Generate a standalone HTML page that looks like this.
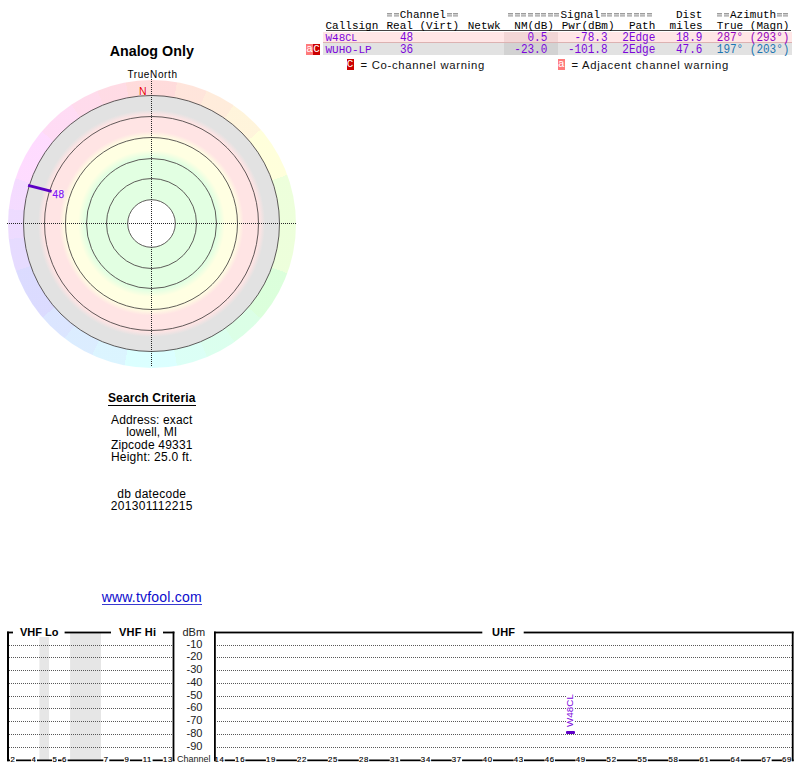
<!DOCTYPE html>
<html><head><meta charset="utf-8">
<style>
html,body{margin:0;padding:0;background:#fff;}
body{width:800px;height:768px;position:relative;overflow:hidden;font-family:"Liberation Sans",sans-serif;}
.a{position:absolute;white-space:pre;line-height:1;}
.m{font-family:"Liberation Mono",monospace;font-size:11px;}
.eq{display:inline-block;width:6.6px;height:11px;vertical-align:top;background:linear-gradient(#9c9c9c,#9c9c9c) 0.6px 3.1px/5.4px 1.5px no-repeat,linear-gradient(#c4c4c4,#c4c4c4) 0.6px 4.6px/5.4px 0.7px no-repeat,linear-gradient(#9c9c9c,#9c9c9c) 0.6px 5.3px/5.4px 1.5px no-repeat;}
.n{transform-origin:0 8.6px;transform:scaleY(1.1);}
.ring{position:absolute;left:7.5px;top:79.5px;width:288px;height:288px;border-radius:50%;
background:conic-gradient(hsl(360,100%,93%) 0deg 10deg, hsl(16,100%,93%) 10deg 22.3deg, hsl(28,100%,93%) 22.3deg 34.5deg, hsl(42,100%,93%) 34.5deg 49deg, hsl(60,100%,93%) 49deg 70deg, hsl(90,100%,93%) 70deg 110deg, hsl(120,100%,93%) 110deg 131deg, hsl(138,100%,93%) 131deg 145deg, hsl(151,100%,93%) 145deg 157.5deg, hsl(164,100%,93%) 157.5deg 170deg, hsl(180,100%,93%) 170deg 191deg, hsl(198,100%,93%) 191deg 204.5deg, hsl(211,100%,93%) 204.5deg 217.4deg, hsl(223,100%,93%) 217.4deg 229.5deg, hsl(240,100%,93%) 229.5deg 251deg, hsl(258,100%,93%) 251deg 264deg, hsl(270,100%,93%) 264deg 276deg, hsl(282,100%,93%) 276deg 288.5deg, hsl(299,100%,93%) 288.5deg 310deg, hsl(318,100%,93%) 310deg 326deg, hsl(332,100%,93%) 326deg 337.7deg, hsl(344,100%,93%) 337.7deg 349.5deg, hsl(360,100%,93%) 349.5deg 360deg);}
</style></head><body>

<!-- ===== Polar chart ===== -->
<div class="a" style="left:0.25px;top:44px;width:303px;text-align:center;font-weight:bold;font-size:14.3px;">Analog Only</div>
<div class="a" style="left:0.5px;top:69.5px;width:304px;text-align:center;font-size:10px;letter-spacing:0.62px;">TrueNorth</div>
<div class="ring"></div>
<svg class="a" style="left:0;top:0" width="310" height="380" viewBox="0 0 310 380">
 <defs>
  <radialGradient id="rg" gradientUnits="userSpaceOnUse" cx="151.5" cy="223.5" r="128">
   <stop offset="0" stop-color="#e2ffe2"/>
   <stop offset="0.52" stop-color="#e2ffe2"/>
   <stop offset="0.574" stop-color="#ffffe2"/>
   <stop offset="0.672" stop-color="#ffffe2"/>
   <stop offset="0.72" stop-color="#ffe4e4"/>
   <stop offset="0.844" stop-color="#ffe4e4"/>
   <stop offset="0.887" stop-color="#e2e2e2"/>
   <stop offset="1" stop-color="#e2e2e2"/>
  </radialGradient>
 </defs>
 <circle cx="151.5" cy="223.5" r="128" fill="url(#rg)"/>
 <circle cx="151.5" cy="223.5" r="23.8" fill="#fff"/>
 <g fill="none" stroke="#444040" stroke-width="0.85">
  <circle cx="151.5" cy="223.5" r="128"/>
  <circle cx="151.5" cy="223.5" r="107"/>
  <circle cx="151.5" cy="223.5" r="86"/>
  <circle cx="151.5" cy="223.5" r="65"/>
  <circle cx="151.5" cy="223.5" r="45"/>
  <circle cx="151.5" cy="223.5" r="23.8"/>
 </g>
 <g stroke="#262626" stroke-width="1" stroke-dasharray="1 1" shape-rendering="crispEdges">
  <line x1="7" y1="223.5" x2="296" y2="223.5"/>
  <line x1="151.5" y1="79" x2="151.5" y2="367"/>
 </g>
 <line x1="28.1" y1="185.3" x2="51.6" y2="191.4" stroke="#5c00c4" stroke-width="2.8"/>
</svg>
<div class="a" style="left:139px;top:85.5px;font-size:10.5px;color:#e80000;text-shadow:0 0 1px #fff,0 0 1px #fff;">N</div>
<div class="a" style="left:52.5px;top:189.5px;font-size:10px;letter-spacing:0.5px;color:#8414f0;-webkit-text-stroke:0.25px #8414f0;text-shadow:0 0 1.5px #fff,0 0 1.5px #fff,0 0 1px #fff;">48</div>

<!-- ===== Search criteria ===== -->
<div class="a" style="left:0.25px;top:391.64px;width:303px;text-align:center;font-size:12px;letter-spacing:0.15px;font-weight:bold;">Search Criteria</div>
<div class="a" style="left:108px;top:404.5px;width:88px;height:1.5px;background:#000;"></div>
<div class="a" style="left:0.25px;top:413.64px;width:303px;text-align:center;font-size:12px;letter-spacing:0.15px;">Address: exact</div>
<div class="a" style="left:0.25px;top:426.34px;width:303px;text-align:center;font-size:12px;letter-spacing:0.11px;">lowell, MI</div>
<div class="a" style="left:0.25px;top:438.64px;width:303px;text-align:center;font-size:12px;letter-spacing:0.18px;">Zipcode 49331</div>
<div class="a" style="left:0.25px;top:450.54px;width:303px;text-align:center;font-size:12px;letter-spacing:0.23px;">Height: 25.0 ft.</div>
<div class="a" style="left:0.25px;top:487.64px;width:303px;text-align:center;font-size:12px;letter-spacing:0.27px;">db datecode</div>
<div class="a" style="left:0.25px;top:499.64px;width:303px;text-align:center;font-size:12px;letter-spacing:0.29px;">201301112215</div>
<div class="a" style="left:0.25px;top:590.35px;width:303px;text-align:center;font-size:14px;letter-spacing:0.21px;color:#0a0acc;">www.tvfool.com</div>
<div class="a" style="left:102px;top:603.8px;width:99.5px;height:1px;background:#3a3ad0;"></div>

<!-- ===== Table ===== -->
<div class="a" style="left:323px;top:32px;width:469px;height:10px;background:#ffe6e6;border-bottom:1px solid #dcb2b2;"></div>
<div class="a" style="left:504px;top:32px;width:54px;height:10px;background:#f2d6d6;"></div>
<div class="a" style="left:323px;top:43px;width:469px;height:12px;background:#e2e2e2;"></div>
<div class="a" style="left:504px;top:43px;width:54px;height:12px;background:#d2d2d2;"></div>
<div class="a" style="left:326px;top:30px;width:465px;height:1px;background:#444;"></div>
<div class="a m" style="left:386.5px;top:10px;"><span class="eq"></span><span class="eq"></span>Channel<span class="eq"></span><span class="eq"></span></div>
<div class="a m" style="left:507.7px;top:10px;"><span class="eq"></span><span class="eq"></span><span class="eq"></span><span class="eq"></span><span class="eq"></span><span class="eq"></span><span class="eq"></span><span class="eq"></span>Signal<span class="eq"></span><span class="eq"></span><span class="eq"></span><span class="eq"></span><span class="eq"></span><span class="eq"></span><span class="eq"></span><span class="eq"></span></div>
<div class="a m" style="left:676px;top:10px;">Dist</div>
<div class="a m" style="left:716.8px;top:10px;"><span class="eq"></span><span class="eq"></span>Azimuth<span class="eq"></span><span class="eq"></span></div>
<div class="a m" style="left:325.5px;top:20.5px;">Callsign</div>
<div class="a m" style="left:386.5px;top:20.5px;">Real (Virt)</div>
<div class="a m" style="left:467.7px;top:20.5px;">Netwk</div>
<div class="a m" style="left:514.3px;top:20.5px;">NM(dB)</div>
<div class="a m" style="left:561.7px;top:20.5px;">Pwr(dBm)</div>
<div class="a m" style="left:628.9px;top:20.5px;">Path</div>
<div class="a m" style="left:669.6px;top:20.5px;">miles</div>
<div class="a m" style="left:716.8px;top:20.5px;">True (Magn)</div>
<div class="a m" style="left:325.5px;top:32.5px;color:#7c06dc;">W48<span style="font-size:10px">CL</span></div>
<div class="a m n" style="left:400px;top:32.5px;color:#7c06dc;">48</div>
<div class="a m n" style="left:527.5px;top:32.5px;color:#7c06dc;">0.5</div>
<div class="a m n" style="left:574.5px;top:32.5px;color:#7c06dc;">-78.3</div>
<div class="a m n" style="left:622.3px;top:32.5px;color:#7c06dc;">2Edge</div>
<div class="a m n" style="left:676px;top:32.5px;color:#7c06dc;">18.9</div>
<div class="a m n" style="left:716.8px;top:32.5px;color:#9606c0;">287° (293°)</div>
<div class="a m" style="left:325.5px;top:44.5px;color:#7c06dc;">WUHO-LP</div>
<div class="a m n" style="left:400px;top:44.5px;color:#7c06dc;">36</div>
<div class="a m n" style="left:514.3px;top:44.5px;color:#7c06dc;">-23.0</div>
<div class="a m n" style="left:567.9px;top:44.5px;color:#7c06dc;">-101.8</div>
<div class="a m n" style="left:622.3px;top:44.5px;color:#7c06dc;">2Edge</div>
<div class="a m n" style="left:676px;top:44.5px;color:#7c06dc;">47.6</div>
<div class="a m n" style="left:716.8px;top:44.5px;color:#1c76b2;">197° (203°)</div>
<div class="a m" style="left:306px;top:43.5px;width:7px;height:11px;background:#ff7a7a;color:#fff;line-height:11px;text-align:center;">a</div>
<div class="a m" style="left:313px;top:43.5px;width:7px;height:11px;background:#cc0000;color:#fff;line-height:11px;text-align:center;">C</div>
<div class="a m" style="left:346.5px;top:59px;width:7px;height:11px;background:#cc0000;color:#fff;line-height:11px;text-align:center;">C</div>
<div class="a" style="left:360.5px;top:59.7px;font-size:11.3px;letter-spacing:0.71px;color:#111;">= Co-channel warning</div>
<div class="a m" style="left:557.5px;top:59px;width:7.5px;height:11px;background:#ff7a7a;color:#fff;line-height:11px;text-align:center;">a</div>
<div class="a" style="left:571.5px;top:59.7px;font-size:11.3px;letter-spacing:0.73px;color:#111;">= Adjacent channel warning</div>


<!-- ===== Spectrum chart ===== -->
<svg class="a" style="left:0;top:620px" width="800" height="148" viewBox="0 620 800 148">
<rect x="39.4" y="637" width="9.7" height="124" fill="#e6e6e6"/>
<rect x="70.1" y="633" width="30.9" height="128" fill="#e6e6e6"/>
<g stroke="#585858" stroke-width="1" stroke-dasharray="1 1" shape-rendering="crispEdges">
<line x1="9" y1="645.5" x2="172" y2="645.5"/>
<line x1="217" y1="645.5" x2="792" y2="645.5"/>
<line x1="9" y1="657.5" x2="172" y2="657.5"/>
<line x1="217" y1="657.5" x2="792" y2="657.5"/>
<line x1="9" y1="670.5" x2="172" y2="670.5"/>
<line x1="217" y1="670.5" x2="792" y2="670.5"/>
<line x1="9" y1="683.5" x2="172" y2="683.5"/>
<line x1="217" y1="683.5" x2="792" y2="683.5"/>
<line x1="9" y1="696.5" x2="172" y2="696.5"/>
<line x1="217" y1="696.5" x2="792" y2="696.5"/>
<line x1="9" y1="708.5" x2="172" y2="708.5"/>
<line x1="217" y1="708.5" x2="792" y2="708.5"/>
<line x1="9" y1="721.5" x2="172" y2="721.5"/>
<line x1="217" y1="721.5" x2="792" y2="721.5"/>
<line x1="9" y1="734.5" x2="172" y2="734.5"/>
<line x1="217" y1="734.5" x2="792" y2="734.5"/>
<line x1="9" y1="747.5" x2="172" y2="747.5"/>
<line x1="217" y1="747.5" x2="792" y2="747.5"/>
</g>
<rect x="7" y="759.5" width="167.4" height="1.7" fill="#000"/>
<rect x="214" y="759.5" width="579.6" height="1.7" fill="#000"/>
<rect x="10.00" y="755" width="6" height="8" fill="#fff"/>
<rect x="31.00" y="755" width="6" height="8" fill="#fff"/>
<rect x="52.00" y="755" width="6" height="8" fill="#fff"/>
<rect x="61.60" y="755" width="6" height="8" fill="#fff"/>
<rect x="103.30" y="755" width="6" height="8" fill="#fff"/>
<rect x="123.90" y="755" width="6" height="8" fill="#fff"/>
<rect x="142.20" y="755" width="10.4" height="8" fill="#fff"/>
<rect x="162.80" y="755" width="10.4" height="8" fill="#fff"/>
<rect x="214.30" y="755" width="10.4" height="8" fill="#fff"/>
<rect x="234.94" y="755" width="10.4" height="8" fill="#fff"/>
<rect x="265.90" y="755" width="10.4" height="8" fill="#fff"/>
<rect x="296.86" y="755" width="10.4" height="8" fill="#fff"/>
<rect x="327.82" y="755" width="10.4" height="8" fill="#fff"/>
<rect x="358.78" y="755" width="10.4" height="8" fill="#fff"/>
<rect x="389.74" y="755" width="10.4" height="8" fill="#fff"/>
<rect x="420.70" y="755" width="10.4" height="8" fill="#fff"/>
<rect x="451.66" y="755" width="10.4" height="8" fill="#fff"/>
<rect x="482.62" y="755" width="10.4" height="8" fill="#fff"/>
<rect x="513.58" y="755" width="10.4" height="8" fill="#fff"/>
<rect x="544.54" y="755" width="10.4" height="8" fill="#fff"/>
<rect x="575.50" y="755" width="10.4" height="8" fill="#fff"/>
<rect x="606.46" y="755" width="10.4" height="8" fill="#fff"/>
<rect x="637.42" y="755" width="10.4" height="8" fill="#fff"/>
<rect x="668.38" y="755" width="10.4" height="8" fill="#fff"/>
<rect x="699.34" y="755" width="10.4" height="8" fill="#fff"/>
<rect x="730.30" y="755" width="10.4" height="8" fill="#fff"/>
<rect x="761.26" y="755" width="10.4" height="8" fill="#fff"/>
<rect x="781.90" y="755" width="10.4" height="8" fill="#fff"/>
<g fill="#000">
<rect x="7" y="631.6" width="2" height="129.6"/>
<rect x="7" y="631.6" width="6" height="1.8"/>
<rect x="64.6" y="631.6" width="46.4" height="1.8"/>
<rect x="163" y="631.6" width="11.4" height="1.8"/>
<rect x="172.6" y="631.6" width="1.8" height="129.6"/>
<rect x="214" y="631.6" width="1.8" height="129.6"/>
<rect x="214" y="631.6" width="268.3" height="1.8"/>
<rect x="523.7" y="631.6" width="269.9" height="1.8"/>
<rect x="791.8" y="631.6" width="1.8" height="129.6"/>
</g>
<rect x="566" y="694" width="9" height="34" fill="#fff"/>
<rect x="566" y="731" width="9" height="3" rx="1" fill="#6000c8"/>
<g font-family="Liberation Sans" font-size="7.8" fill="#000" stroke="#000" stroke-width="0.15" text-anchor="middle" letter-spacing="0.7">
<text x="13.00" y="762">2</text>
<text x="34.00" y="762">4</text>
<text x="55.00" y="762">5</text>
<text x="64.60" y="762">6</text>
<text x="106.30" y="762">7</text>
<text x="126.90" y="762">9</text>
<text x="147.40" y="762">11</text>
<text x="168.00" y="762">13</text>
<text x="219.50" y="762">14</text>
<text x="240.14" y="762">16</text>
<text x="271.10" y="762">19</text>
<text x="302.06" y="762">22</text>
<text x="333.02" y="762">25</text>
<text x="363.98" y="762">28</text>
<text x="394.94" y="762">31</text>
<text x="425.90" y="762">34</text>
<text x="456.86" y="762">37</text>
<text x="487.82" y="762">40</text>
<text x="518.78" y="762">43</text>
<text x="549.74" y="762">46</text>
<text x="580.70" y="762">49</text>
<text x="611.66" y="762">52</text>
<text x="642.62" y="762">55</text>
<text x="673.58" y="762">58</text>
<text x="704.54" y="762">61</text>
<text x="735.50" y="762">64</text>
<text x="766.46" y="762">67</text>
<text x="787.10" y="762">69</text>
</g>
</svg>
<div class="a" style="left:20px;top:627px;font-weight:bold;font-size:11px;">VHF Lo</div>
<div class="a" style="left:119px;top:627px;font-weight:bold;font-size:11px;letter-spacing:0.2px;">VHF Hi</div>
<div class="a" style="left:492px;top:627px;font-weight:bold;font-size:11px;letter-spacing:0.2px;">UHF</div>
<div class="a" style="left:182.5px;top:627px;font-size:11px;color:#222;">dBm</div>
<div class="a" style="left:100px;width:102.5px;text-align:right;top:639.1px;font-size:11px;color:#222;">-10</div>
<div class="a" style="left:100px;width:102.5px;text-align:right;top:651.1px;font-size:11px;color:#222;">-20</div>
<div class="a" style="left:100px;width:102.5px;text-align:right;top:664.1px;font-size:11px;color:#222;">-30</div>
<div class="a" style="left:100px;width:102.5px;text-align:right;top:677.1px;font-size:11px;color:#222;">-40</div>
<div class="a" style="left:100px;width:102.5px;text-align:right;top:690.1px;font-size:11px;color:#222;">-50</div>
<div class="a" style="left:100px;width:102.5px;text-align:right;top:702.1px;font-size:11px;color:#222;">-60</div>
<div class="a" style="left:100px;width:102.5px;text-align:right;top:715.1px;font-size:11px;color:#222;">-70</div>
<div class="a" style="left:100px;width:102.5px;text-align:right;top:728.1px;font-size:11px;color:#222;">-80</div>
<div class="a" style="left:100px;width:102.5px;text-align:right;top:741.1px;font-size:11px;color:#222;">-90</div>
<div class="a" style="left:177px;top:754.6px;font-size:9px;color:#222;">Channel</div>
<div class="a" style="left:565.4px;top:727.2px;transform-origin:0 0;transform:rotate(-90deg);font-size:9.8px;color:#7c06dc;letter-spacing:0.05px;">W48CL</div>

</body></html>
